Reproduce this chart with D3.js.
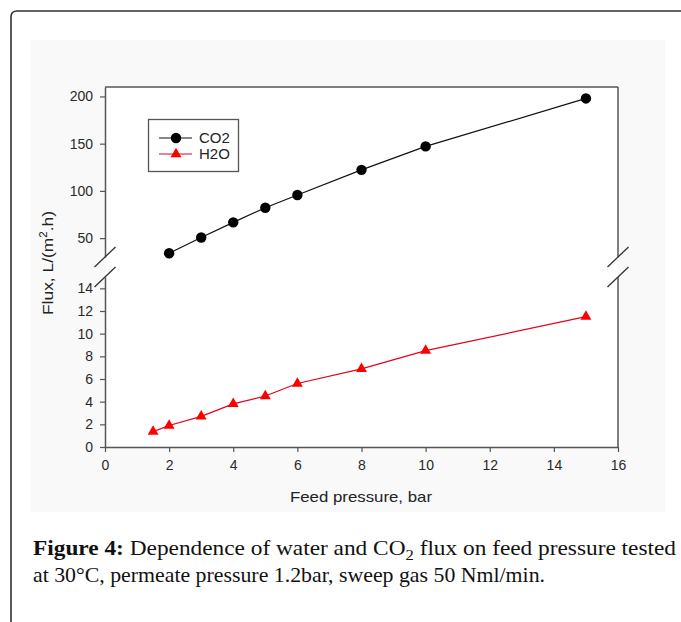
<!DOCTYPE html>
<html>
<head>
<meta charset="utf-8">
<script src="https://cdn.jsdelivr.net/npm/d3@7"></script>
<style>
  html, body { margin: 0; padding: 0; background: #fff; }
  svg { display: block; }
  .tick text { font-family: "Liberation Sans", Arial, sans-serif; font-size: 14px; fill: #2a2a2a; }
</style>
</head>
<body>
<svg id="chart" width="681" height="622"></svg>
<script>
// feed pressure (bar)
const co2Pressure = [2, 3, 4, 5, 6, 8, 10, 15];
const co2Flux = [34, 50.7, 66.7, 82.2, 95.7, 122.3, 147.1, 197.9];
const h2oPressure = [1.5, 2, 3, 4, 5, 6, 8, 10, 15];
const h2oFlux = [1.36, 1.9, 2.7, 3.8, 4.5, 5.6, 6.9, 8.5, 11.5];

const xTicks = [0, 2, 4, 6, 8, 10, 12, 14, 16];
const topTicks = [50, 100, 150, 200];
const bottomTicks = [0, 2, 4, 6, 8, 10, 12, 14];

const svg = d3.select("#chart");
const axisColor = "#555";
const sans = "Liberation Sans, Arial, sans-serif";

// page frame + figure background
svg.append("path")
  .attr("d", "M11,622 L11,17 Q11,11 17,11 L681,11")
  .attr("fill", "none").attr("stroke", "#333").attr("stroke-width", 1.6);
svg.append("rect").attr("x", 30).attr("y", 40).attr("width", 635).attr("height", 472).attr("fill", "#f9f9f9");

const x = d3.scaleLinear().domain([0, 16]).range([105, 618]);
const yTop = d3.scaleLinear().domain([30, 210]).range([257, 87]);
const yBot = d3.scaleLinear().domain([0, 15]).range([447, 277]);

svg.append("rect").attr("x", 105).attr("y", 87).attr("width", 513).attr("height", 360).attr("fill", "#fff");

function styleAxis(g) {
  g.select(".domain").attr("stroke", axisColor).attr("stroke-width", 1.5);
  g.selectAll(".tick line").attr("stroke", axisColor).attr("stroke-width", 1.2);
}

svg.append("g").attr("transform", "translate(105,0)")
  .call(d3.axisLeft(yTop).tickValues(topTicks).tickSize(5).tickSizeOuter(0).tickPadding(7))
  .call(styleAxis);
svg.append("g").attr("transform", "translate(105,0)")
  .call(d3.axisLeft(yBot).tickValues(bottomTicks).tickSize(5).tickSizeOuter(0).tickPadding(7))
  .call(styleAxis);
svg.append("g").attr("transform", "translate(0,447)")
  .call(d3.axisBottom(x).tickValues(xTicks).tickSize(5).tickSizeOuter(0).tickPadding(8))
  .call(styleAxis);

// top and right frame
svg.append("line").attr("x1", 105).attr("x2", 618).attr("y1", 87).attr("y2", 87)
  .attr("stroke", axisColor).attr("stroke-width", 1.5);
[[yTop(210), yTop(30)], [yBot(15), yBot(0)]].forEach(([a, b]) => {
  svg.append("line").attr("x1", 618).attr("x2", 618).attr("y1", a).attr("y2", b)
    .attr("stroke", axisColor).attr("stroke-width", 1.5);
});

// axis break marks
[105, 618].forEach(bx => {
  [yTop(30), yBot(15)].forEach(by => {
    svg.append("line")
      .attr("x1", bx - 10.5).attr("y1", by + 10).attr("x2", bx + 10.5).attr("y2", by - 10)
      .attr("stroke", "#333").attr("stroke-width", 1.3);
  });
});

// CO2 series
const co2 = co2Pressure.map((p, i) => ({ p, v: co2Flux[i] }));
svg.append("path").datum(co2)
  .attr("d", d3.line().x(d => x(d.p)).y(d => yTop(d.v)))
  .attr("fill", "none").attr("stroke", "#111").attr("stroke-width", 1.2);
svg.append("g").selectAll("circle").data(co2).join("circle")
  .attr("cx", d => x(d.p)).attr("cy", d => yTop(d.v)).attr("r", 5.2).attr("fill", "#000");

// H2O series
const h2o = h2oPressure.map((p, i) => ({ p, v: h2oFlux[i] }));
svg.append("path").datum(h2o)
  .attr("d", d3.line().x(d => x(d.p)).y(d => yBot(d.v)))
  .attr("fill", "none").attr("stroke", "#e8001c").attr("stroke-width", 1.2);
const tri = d3.symbol().type(d3.symbolTriangle).size(52);
svg.append("g").selectAll("path").data(h2o).join("path")
  .attr("transform", d => `translate(${x(d.p)},${yBot(d.v)})`)
  .attr("d", tri).attr("fill", "#f00");

// legend
const lg = svg.append("g");
lg.append("rect").attr("x", 148.5).attr("y", 119.5).attr("width", 90).attr("height", 52)
  .attr("fill", "#fff").attr("stroke", "#555").attr("stroke-width", 1.3);
const legendRows = [
  { label: "CO2", color: "#111", y: 138, sym: "circle" },
  { label: "H2O", color: "#e8001c", y: 154, sym: "triangle" }
];
legendRows.forEach(r => {
  lg.append("line").attr("x1", 159).attr("x2", 192).attr("y1", r.y).attr("y2", r.y)
    .attr("stroke", r.color).attr("stroke-width", 1.2);
  if (r.sym === "circle") {
    lg.append("circle").attr("cx", 176).attr("cy", r.y).attr("r", 5.2).attr("fill", "#000");
  } else {
    lg.append("path").attr("transform", `translate(176,${r.y})`).attr("d", tri).attr("fill", "#f00");
  }
  lg.append("text").attr("x", 199).attr("y", r.y).attr("dy", "0.36em")
    .attr("font-family", sans).attr("font-size", 15).attr("fill", "#222")
    .text(r.label);
});

// axis titles
svg.append("text").attr("x", 361).attr("y", 502).attr("text-anchor", "middle")
  .attr("font-family", sans).attr("font-size", 15).attr("fill", "#222")
  .attr("textLength", 142).attr("lengthAdjust", "spacingAndGlyphs")
  .text("Feed pressure, bar");
const yt = svg.append("text").attr("transform", "translate(53,263) rotate(-90)").attr("text-anchor", "middle")
  .attr("font-family", sans).attr("font-size", 15).attr("fill", "#222")
  .attr("textLength", 104).attr("lengthAdjust", "spacingAndGlyphs");
yt.append("tspan").text("Flux, L/(m");
yt.append("tspan").attr("font-size", 10).attr("dy", -6).text("2");
yt.append("tspan").attr("dy", 6).text(".h)");

// caption
const serif = "Liberation Serif, 'Times New Roman', serif";
const cap1 = svg.append("text").attr("x", 33).attr("y", 555)
  .attr("font-family", serif).attr("font-size", 21).attr("fill", "#111")
  .attr("textLength", 643).attr("lengthAdjust", "spacingAndGlyphs");
cap1.append("tspan").attr("font-weight", "bold").text("Figure 4:");
cap1.append("tspan").text(" Dependence of water and CO");
cap1.append("tspan").attr("font-size", 15).attr("dy", 5).text("2");
cap1.append("tspan").attr("dy", -5).text(" flux on feed pressure tested");
svg.append("text").attr("x", 33).attr("y", 582)
  .attr("font-family", serif).attr("font-size", 21).attr("fill", "#111")
  .attr("textLength", 512).attr("lengthAdjust", "spacingAndGlyphs")
  .text("at 30°C, permeate pressure 1.2bar, sweep gas 50 Nml/min.");
</script>
</body>
</html>
